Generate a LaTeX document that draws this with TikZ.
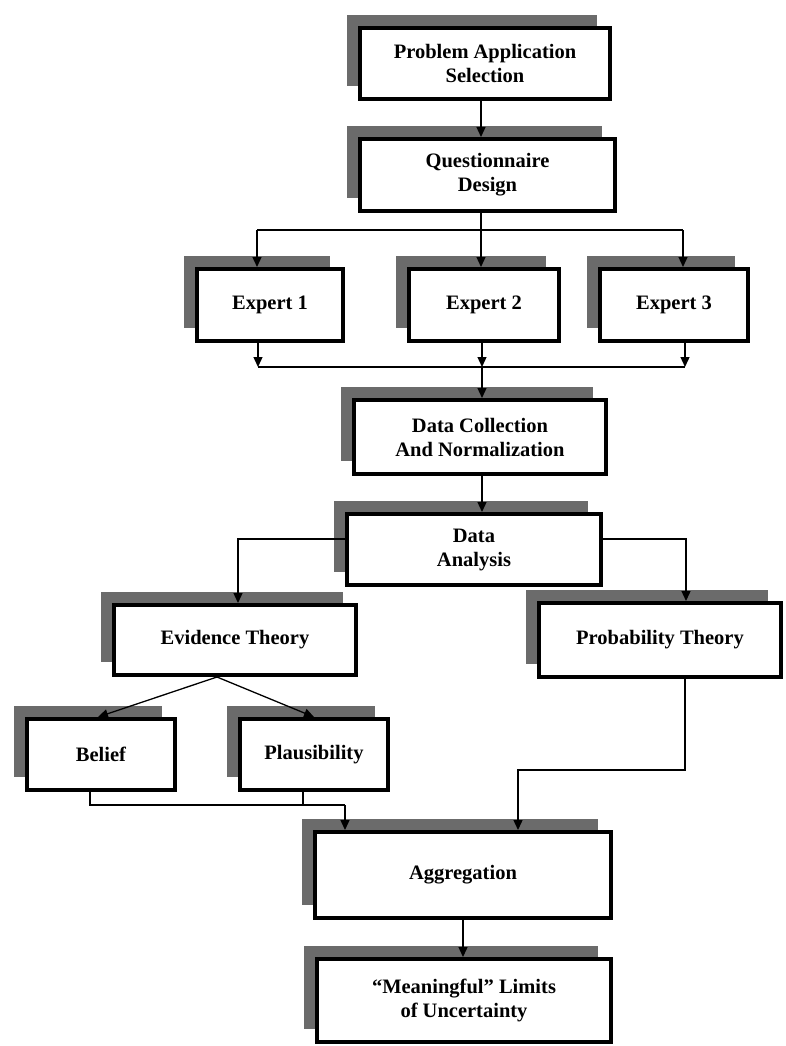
\documentclass[tikz,border=0pt]{standalone}
\usepackage{fontspec}
\setmainfont{Liberation Serif}
\usetikzlibrary{arrows.meta,shadows}
\begin{document}
\begin{tikzpicture}[x=1pt,y=-1pt,
  box/.style={draw=black, line width=4pt, fill=white, align=center, inner sep=0pt,
    font=\fontsize{20.5}{24}\selectfont\bfseries,
    drop shadow={shadow xshift=-13pt, shadow yshift=13pt, fill=black!58, opacity=1}},
  arr/.style={line width=1.3pt, -{Triangle[length=10pt,width=9pt]}},
  ln/.style={line width=1.3pt}]
\useasboundingbox[fill=white] (0,0) rectangle (786,1046);

% boxes
\node[box, minimum width=250pt, minimum height=71pt] (pa) at (485,63.5) {Problem Application\\Selection};
\node[box, minimum width=255pt, minimum height=72pt] (qd) at (487.5,175) {Questionnaire\\Design};
\node[box, minimum width=146pt, minimum height=72pt] (e1) at (270,305) {Expert 1};
\node[box, minimum width=150pt, minimum height=72pt] (e2) at (484,305) {Expert 2};
\node[box, minimum width=148pt, minimum height=72pt] (e3) at (674,305) {Expert 3};
\node[box, minimum width=252pt, minimum height=74pt] (dc) at (480,437) {Data Collection\\And Normalization};
\node[box, minimum width=254pt, minimum height=71pt] (da) at (474,549.5) {Data\\Analysis};
\node[box, minimum width=242pt, minimum height=70pt] (et) at (235,640) {Evidence Theory};
\node[box, minimum width=242pt, minimum height=74pt] (pt) at (660,640) {Probability Theory};
\node[box, minimum width=148pt, minimum height=71pt] (bel) at (101,754.5) {Belief};
\node[box, minimum width=148pt, minimum height=71pt] (pl) at (314,754.5) {Plausibility};
\node[box, minimum width=296pt, minimum height=86pt] (agg) at (463,875) {Aggregation};
\node[box, minimum width=294pt, minimum height=83pt] (mf) at (464,1000.5) {``Meaningful'' Limits\\of Uncertainty};

% junction coordinates
\coordinate (xc) at (481,0);
\coordinate (t1) at (257,230);
\coordinate (t2) at (481,230);
\coordinate (t3) at (683,230);
\coordinate (b1) at (258,367);
\coordinate (b2) at (482,367);
\coordinate (b3) at (685,367);
\coordinate (l1) at (238,539);
\coordinate (r1) at (686,539);
\coordinate (ap) at (217,0);
\coordinate (g1) at (90,805);
\coordinate (g3) at (303,805);
\coordinate (g2) at (345,805);
\coordinate (h1) at (685,770);
\coordinate (h2) at (518,770);

% connectors
\draw[arr] (pa.south -| xc) -- (qd.north -| xc);
\draw[arr] (qd.south -| xc) -- (e2.north -| xc);
\draw[ln] (t1) -- (t3);
\draw[arr] (t1) -- (e1.north -| t1);
\draw[arr] (t3) -- (e3.north -| t3);

\draw[arr] (e1.south -| b1) -- (b1);
\draw[arr] (e2.south -| b2) -- (b2);
\draw[arr] (e3.south -| b3) -- (b3);
\draw[ln] (b1) -- (b3);
\draw[arr] (b2) -- (dc.north -| b2);

\draw[arr] (dc.south -| b2) -- (da.north -| b2);
\draw[arr] (da.west |- l1) -- (l1) -- (et.north -| l1);
\draw[arr] (da.east |- r1) -- (r1) -- (pt.north -| r1);

\draw[arr] (et.south -| ap) -- ([xshift=-3pt]bel.north);
\draw[arr] (et.south -| ap) -- (pl.north);

\draw[ln] (bel.south -| g1) -- (g1) -- (g2);
\draw[ln] (pl.south -| g3) -- (g3);
\draw[arr] (g2) -- (agg.north -| g2);
\draw[arr] (pt.south -| h1) -- (h1) -- (h2) -- (agg.north -| h2);

\draw[arr] (agg.south) -- (mf.north -| agg.south);
\end{tikzpicture}
\end{document}
